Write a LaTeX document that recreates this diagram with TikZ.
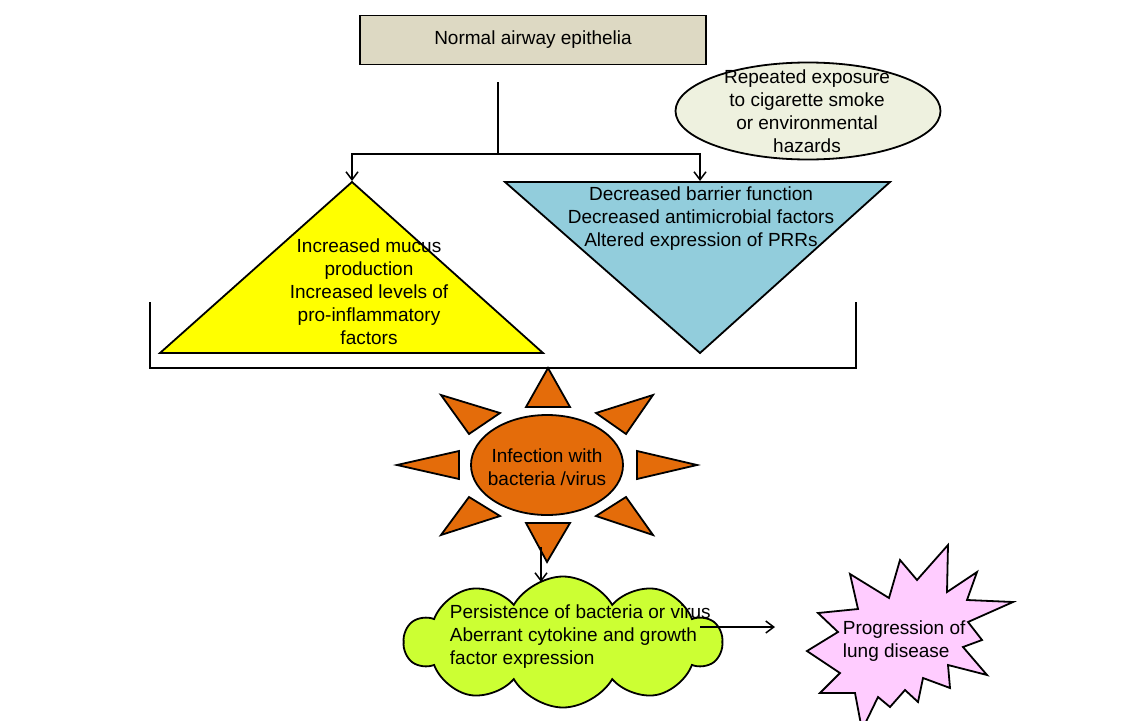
\documentclass[tikz,border=0pt]{standalone}
\usepackage{fontspec}
\setmainfont{Liberation Sans}
\usetikzlibrary{arrows.meta,shapes.geometric,shapes.symbols}
\definecolor{boxtan}{HTML}{DDD9C3}
\definecolor{hazardcream}{HTML}{EEF1DF}
\definecolor{mucusyellow}{HTML}{FFFF00}
\definecolor{barrierblue}{HTML}{92CDDC}
\definecolor{sunorange}{HTML}{E46C0A}
\definecolor{cloudlime}{HTML}{CCFF33}
\definecolor{burstpink}{HTML}{FFCCFF}

\begin{document}
\begin{tikzpicture}[x=1pt,y=-1pt,line width=1.8pt,line join=miter,
txt/.style={font=\fontsize{19}{23}\selectfont,align=center,inner sep=0pt},
arr/.style={-{Straight Barb[length=8pt,width=12pt]},line width=1.5pt},
ray/.style={draw,fill=sunorange}]
\useasboundingbox (0,0) rectangle (1145,720);
% top box and hazards
\node[draw,fill=boxtan,minimum width=346,minimum height=49,txt] (normal) at (533,40) {Normal airway epithelia};
\node[draw,ellipse,fill=hazardcream,minimum width=265,minimum height=97] (hazard) at (808,111) {};
\node[txt] (hazardtxt) at (807,111) {Repeated exposure\\to cigarette smoke\\or environmental\\hazards};
% triangles
\draw[fill=mucusyellow] (352,182) -- (543,353) -- (160,353) -- cycle;
\node[txt] (mucus) at (369,292) {Increased mucus\\production\\Increased levels of\\pro-inflammatory\\factors};
\draw[fill=barrierblue] (505,182) -- (890,182) -- (700,353) -- cycle;
\node[txt] (barrier) at (701,219) {Decreased barrier function\\Decreased antimicrobial factors\\Altered expression of PRRs};
\coordinate (stem) at (498,82);
\coordinate (fork) at (498,154);
\coordinate (mucustop) at (352,182);
\coordinate (barriertop) at (700,182);
\draw (stem) -- (fork);
\draw[arr,shorten >=1pt] (fork) -| (mucustop);
\draw[arr,shorten >=1pt] (fork) -| (barriertop);
\draw (150,302) |- (856,368) -- (856,302);
% sun
\foreach \pa/\pb/\pc in %
{{548,368}/{526,407}/{570,407},{526,523}/{570,523}/{547,562},
 {397,465}/{459,451}/{459,479},{697,465}/{637,451}/{637,479},
 {441,395}/{500,413}/{469,434},{653,395}/{596,413}/{626,434},
 {441,535}/{469,497}/{500,516},{653,535}/{626,497}/{596,516}} {
   \draw[ray] (\pa) -- (\pb) -- (\pc) -- cycle;
}
\node[draw,ellipse,fill=sunorange,minimum width=152,minimum height=100] (infect) at (547,465) {};
\node[txt] (infecttxt) at (547,467) {Infection with\\bacteria /virus};
% cloud
\node[draw,cloud,cloud puffs=10,cloud puff arc=120,aspect=2.4,fill=cloudlime,minimum width=317,minimum height=131] (persist) at (563,642) {};
\node[txt,align=left,anchor=west] (persisttxt) at (449,637) {Persistence of bacteria or virus\\Aberrant cytokine and growth\\factor expression};
\coordinate (rayend) at (541,547);
\coordinate (cloudtop) at (541,582);
\draw[arr] (rayend) -- (cloudtop);
% starburst
\draw[fill=burstpink] (818,613) -- (858,609) -- (850,574) -- (889,598) -- (900,560) -- (917,580)
   -- (948,545) -- (947,592) -- (977,572) -- (967,600) -- (1013,602) -- (968,622)
   -- (982,640) -- (963,647) -- (987,675) -- (948,665) -- (950,688) -- (923,678)
   -- (918,702) -- (905,690) -- (890,707) -- (878,697) -- (862,730) -- (855,693)
   -- (820,693) -- (840,673) -- (807,651) -- (838,632) -- cycle;
\node[txt,align=left,anchor=west] (progress) at (842,641) {Progression of\\lung disease};
\coordinate (persistout) at (700,627);
\coordinate (progressin) at (775,627);
\draw[arr] (persistout) -- (progressin);
\end{tikzpicture}
\end{document}
